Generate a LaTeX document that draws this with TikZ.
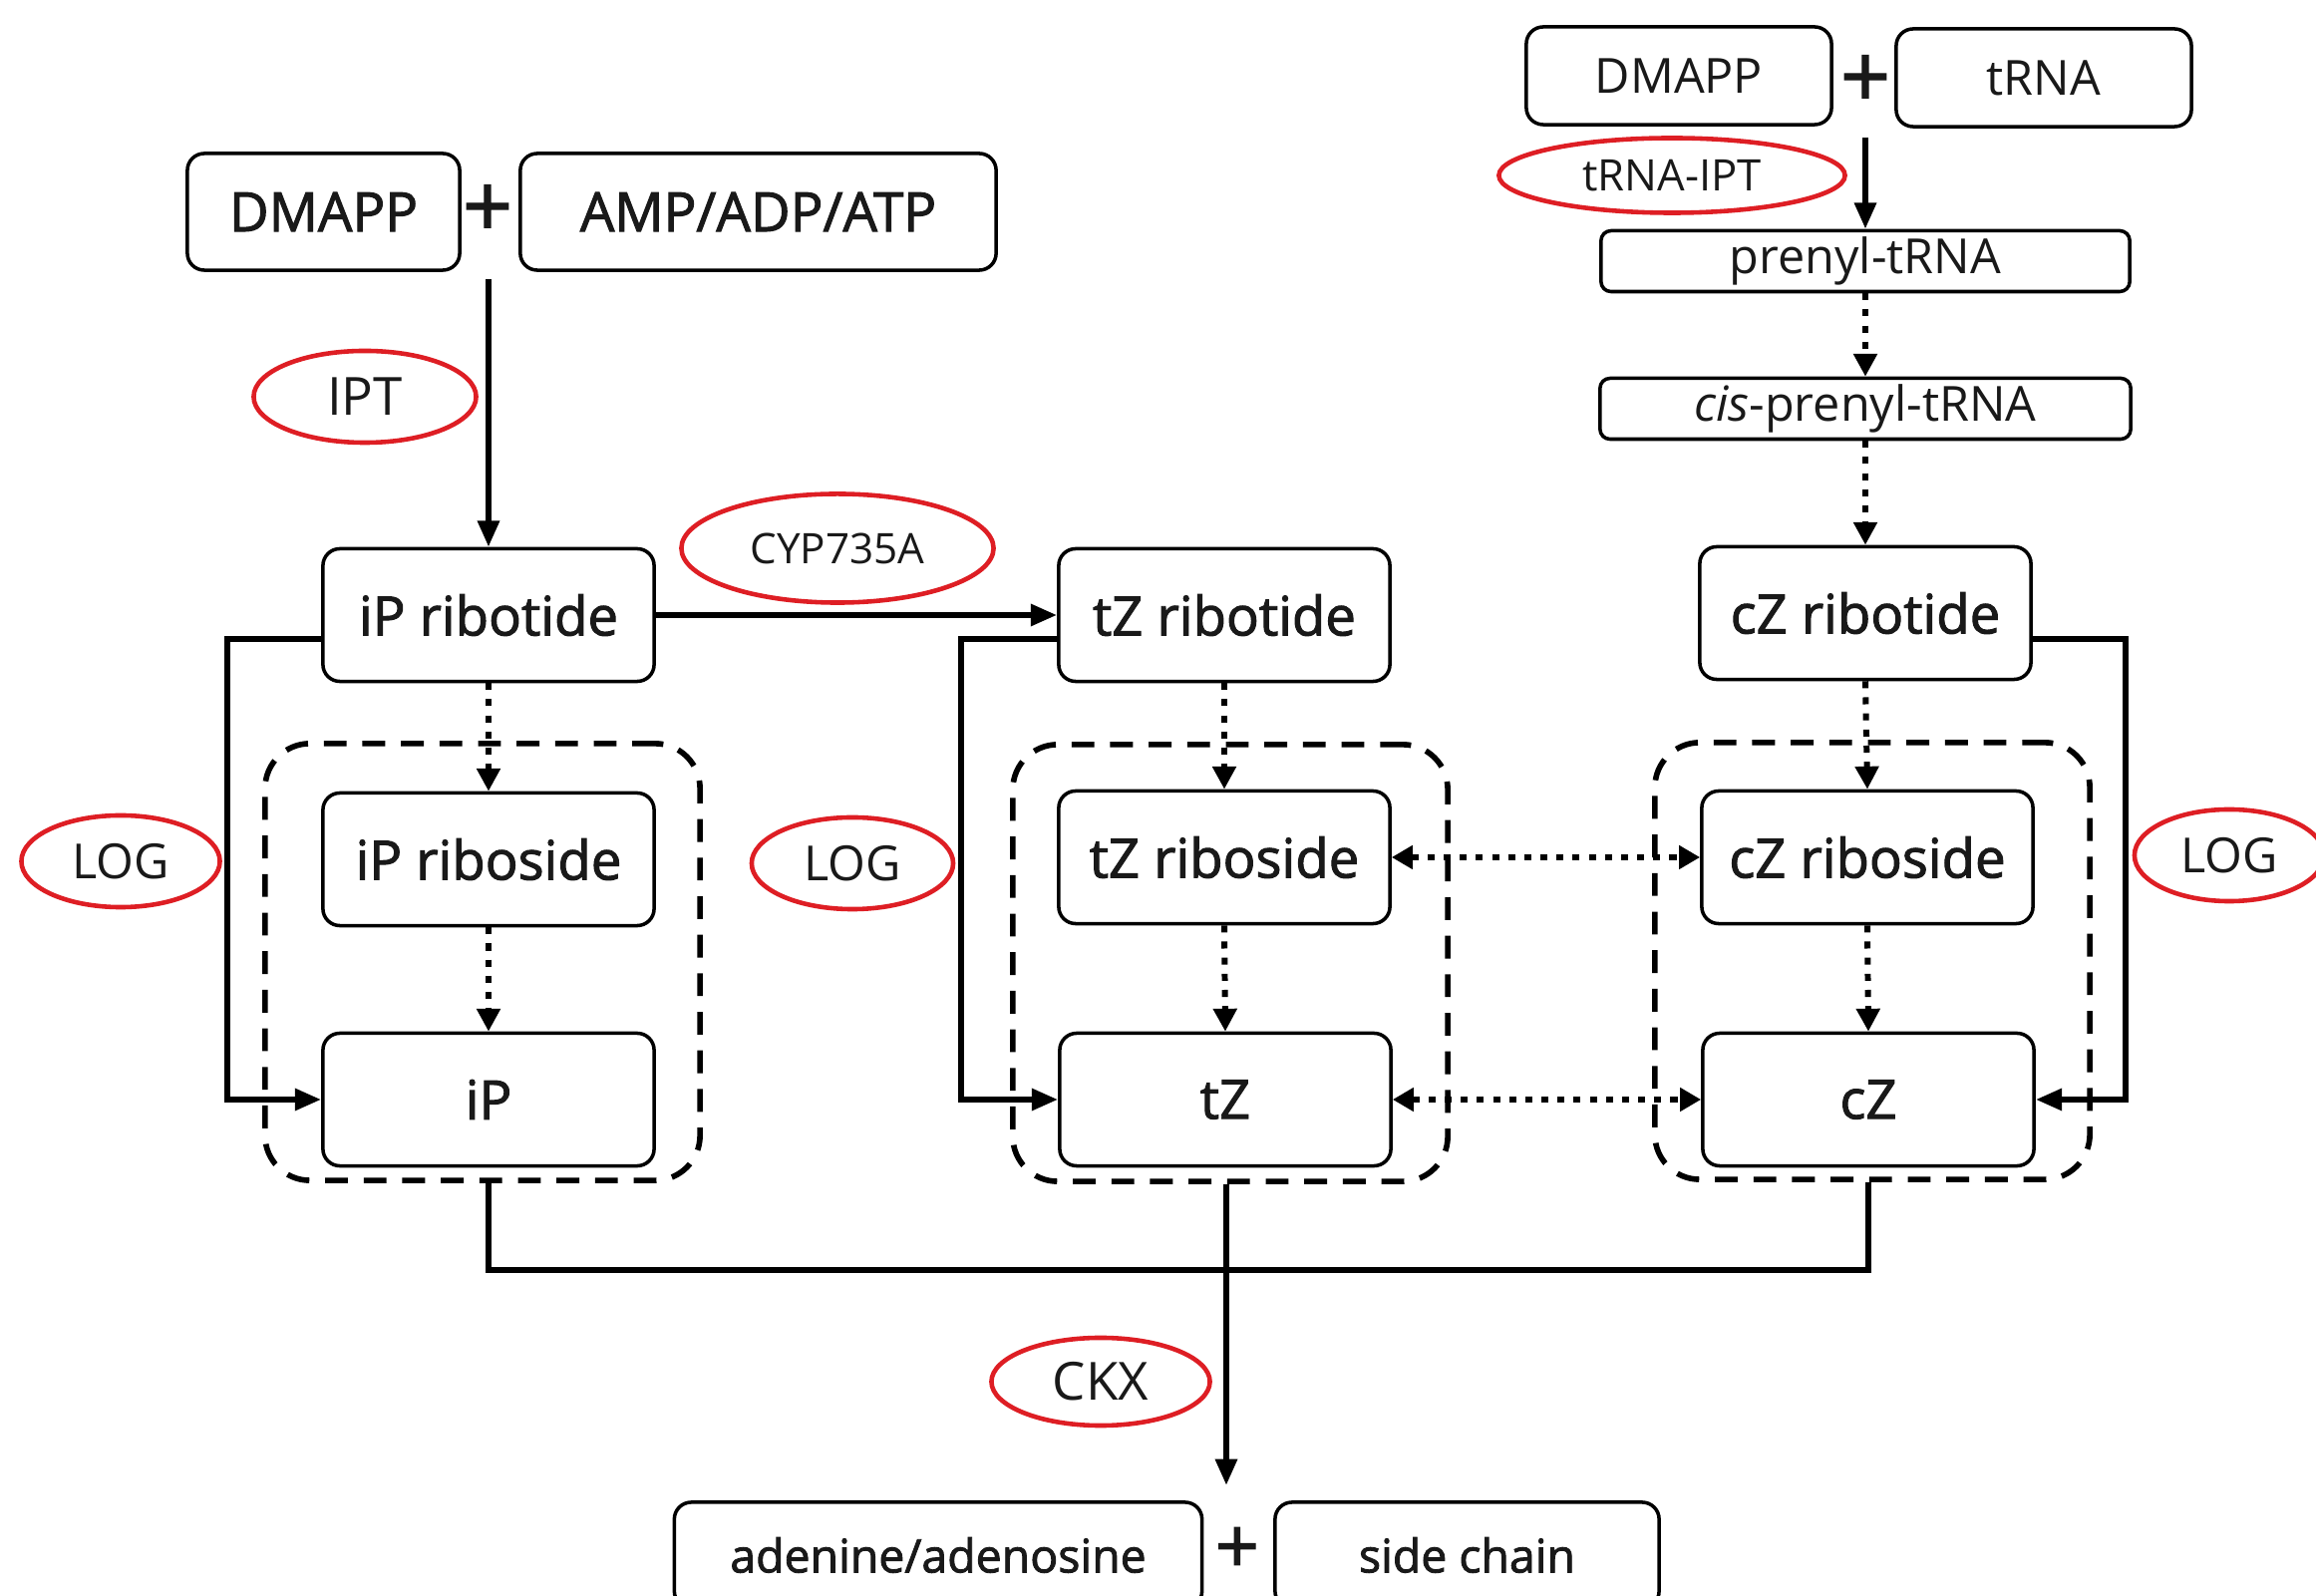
\documentclass[tikz,border=0pt]{standalone}
\usepackage{fontspec}
\setmainfont{Open Sans}
\newfontfamily\boldish{Open Sans}[FakeBold=1.8]
\newfontfamily\plusfont{Open Sans}[FakeBold=1.5]
\usetikzlibrary{arrows.meta,shapes.geometric,calc}
\definecolor{ered}{RGB}{222,30,36}
\definecolor{txt}{RGB}{25,25,25}
\begin{document}
\begin{tikzpicture}[x=0.01cm,y=-0.01cm,
  box/.style={draw, rounded corners=0.17cm, line width=1pt, inner sep=0pt,
    minimum width=3.32cm, minimum height=1.33cm, align=center, text=txt,
    font=\boldish\fontsize{15.5}{18}\selectfont},
  thinbox/.style={box, rounded corners=0.1cm, minimum height=0.61cm,
    font=\fontsize{13.8}{15}\selectfont},
  ell/.style={draw=ered, ellipse, line width=1.3pt, inner sep=0pt, text=txt},
  grp/.style={draw, rounded corners=0.45cm, line width=1.6pt,
    dash pattern=on 6.5pt off 4.5pt, minimum width=4.36cm,
    minimum height=4.38cm, inner sep=0pt},
  plussign/.style={inner sep=0pt, text=txt, text height=17pt, text depth=0pt,
    font=\plusfont\fontsize{25}{25}\selectfont},
  solidarrow/.style={line width=1.7pt, -{Triangle[length=7.5pt,width=6pt]}},
  dotline/.style={line width=1.7pt, dash pattern=on 2pt off 2.6pt},
  dotarrow/.style={dotline, -{Triangle[length=6.5pt,width=6.5pt]}},
  dotboth/.style={dotline, {Triangle[length=6pt,width=6.5pt]}-{Triangle[length=6pt,width=6.5pt]}}
]
\useasboundingbox (0,0) rectangle (2323,1601);
\fill[white] (0,0) rectangle (2323,1601);

% dashed groups
\node[grp] (giP) at (484,965) {};
\node[grp] (gtZ) at (1234,966) {};
\node[grp] (gcZ) at (1878,964) {};

% top left
\node[box, minimum width=2.73cm, minimum height=1.17cm] (dm1) at (324.5,212.5) {DMAPP};
\node[box, minimum width=4.77cm, minimum height=1.17cm] (amp) at (760.5,212.5) {AMP/ADP/ATP};
\node[plussign] (plus1) at (489,208) {+};
\coordinate (s1) at (490,280);

% top right
\node[box, minimum width=3.06cm, minimum height=0.98cm, font=\fontsize{13.8}{15}\selectfont] (dm2) at (1684,76) {DMAPP};
\node[box, minimum width=2.96cm, minimum height=0.98cm, font=\fontsize{13.8}{15}\selectfont] (trna) at (2050,78) {tRNA};
\node[plussign] (plus2) at (1871,78) {+};
\coordinate (s2) at (1871,138);
\node[thinbox, minimum width=5.30cm] (pre) at (1871,262) {prenyl-tRNA};
\node[thinbox, minimum width=5.32cm] (cis) at (1871,410) {\textit{cis}-prenyl-tRNA};

% main boxes
\node[box] (ipr) at (490,617) {iP ribotide};
\node[box] (tzr) at (1228,617) {tZ ribotide};
\node[box] (czr) at (1871,615) {cZ ribotide};
\node[box] (ipros) at (490,862) {iP riboside};
\node[box] (tzros) at (1228,860) {tZ riboside};
\node[box] (czros) at (1873,860) {cZ riboside};
\node[box] (ipb) at (490,1103) {iP};
\node[box] (tzb) at (1229,1103) {tZ};
\node[box] (czb) at (1874,1103) {cZ};

% bottom
\node[box, minimum width=5.29cm, minimum height=1.06cm, font=\boldish\fontsize{13.2}{15}\selectfont] (adn) at (941,1560) {adenine/adenosine};
\node[box, minimum width=3.85cm, minimum height=1.06cm, font=\boldish\fontsize{13.2}{15}\selectfont] (side) at (1471.5,1560) {side chain};
\node[plussign, text height=15pt, font=\plusfont\fontsize{22}{22}\selectfont] (plus3) at (1241,1552) {+};
\coordinate (ckxend) at (1230,1490);

% enzyme labels
\node[ell, minimum width=2.23cm, minimum height=0.92cm, font=\fontsize{15}{17}\selectfont] (ipt) at (366,398) {IPT};
\node[ell, minimum width=3.13cm, minimum height=1.09cm, font=\fontsize{12}{14}\selectfont] (cyp) at (840,550) {CYP735A};
\node[ell, minimum width=1.99cm, minimum height=0.92cm, font=\fontsize{13.8}{15}\selectfont] (log1) at (121,864) {LOG};
\node[ell, minimum width=2.02cm, minimum height=0.92cm, font=\fontsize{13.8}{15}\selectfont] (log2) at (855,866) {LOG};
\node[ell, minimum width=1.90cm, minimum height=0.92cm, font=\fontsize{13.8}{15}\selectfont] (log3) at (2236,858) {LOG};
\node[ell, minimum width=3.47cm, minimum height=0.75cm, font=\fontsize{12.4}{14}\selectfont] (trnaipt) at (1677,176) {tRNA-IPT};
\node[ell, minimum width=2.19cm, minimum height=0.88cm, font=\fontsize{15}{17}\selectfont] (ckx) at (1104,1386) {CKX};

% connectors
\draw[solidarrow] (s1) -- (ipr.north);
\draw[solidarrow] (ipr.east) -- (tzr.west);
\draw[solidarrow] (s2) -- (pre.north);
\draw[dotarrow] (pre.south) -- (cis.north);
\draw[dotarrow] (cis.south) -- (czr.north);

\draw[dotarrow] (ipr.south) -- (ipros.north);
\draw[dotarrow] (ipros.south) -- (ipb.north);
\draw[dotarrow] (tzr.south) -- (tzros.north);
\draw[dotarrow] (tzros.south) -- (tzb.north);
\draw[dotarrow] (czr.south) -- (czros.north);
\draw[dotarrow] (czros.south) -- (czb.north);

\draw[dotboth] (tzros.east) -- (czros.west);
\draw[dotboth] (tzb.east) -- (czb.west);

\draw[solidarrow] ($(ipr.west)+(0,24)$) -- ++(-94,0) |- (ipb.west);
\draw[solidarrow] ($(tzr.west)+(0,24)$) -- ++(-96,0) |- (tzb.west);
\draw[solidarrow] ($(czr.east)+(0,26)$) -- ++(93,0) |- (czb.east);

\draw[line width=1.7pt] (giP.south -| ipb.south) -- ++(0,87) -| (gcZ.south -| czb.south);
\draw[solidarrow] (gtZ.south -| ckxend) -- (ckxend);
\end{tikzpicture}
\end{document}
